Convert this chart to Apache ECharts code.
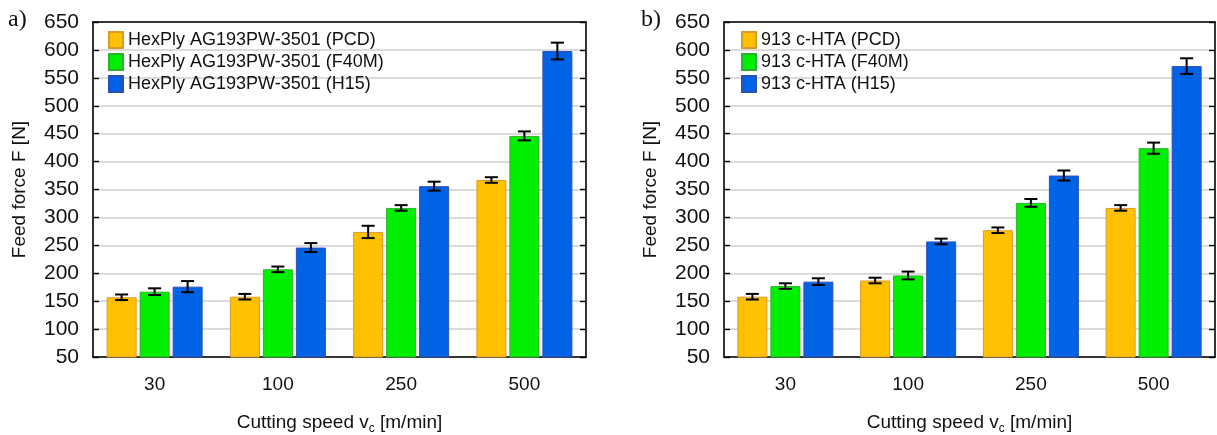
<!DOCTYPE html>
<html>
<head>
<meta charset="utf-8">
<script src="https://cdn.jsdelivr.net/npm/echarts@6/dist/echarts.min.js"></script>
<style>
  html, body { margin: 0; padding: 0; background: #fff; }
  #chart { width: 1217px; height: 435px; }
</style>
</head>
<body>
<div id="chart"></div>
<script>
// Cutting speeds (m/min)
const categories = ['30', '100', '250', '500'];
const yTicks = { min: 50, max: 650, step: 50 };

// a) HexPly AG193PW-3501, feed force [N] and spread
const leftNames = ['HexPly AG193PW-3501 (PCD)', 'HexPly AG193PW-3501 (F40M)', 'HexPly AG193PW-3501 (H15)'];
const leftPCD = [157, 158, 274, 367];
const leftPCDErr = [5, 5, 11, 5];
const leftF40M = [167, 207, 317, 446];
const leftF40MErr = [6, 5, 5, 8];
const leftH15 = [176, 246, 356, 598];
const leftH15Err = [10, 8, 8, 15];

// b) 913 c-HTA, feed force [N] and spread
const rightNames = ['913 c-HTA (PCD)', '913 c-HTA (F40M)', '913 c-HTA (H15)'];
const rightPCD = [158, 187, 277, 317];
const rightPCDErr = [5, 5, 5, 5];
const rightF40M = [177, 196, 326, 424];
const rightF40MErr = [5, 7, 7, 10];
const rightH15 = [185, 257, 375, 571];
const rightH15Err = [6, 5, 9, 14];

const FONT = '"Liberation Sans", Arial, sans-serif';
const fills = ['#FFC000', '#00EE00', '#0062E4'];
const borders = ['#D99A2E', '#2DB02D', '#2F4FB5'];
const BAR_W = 30;
const BAR_STEP = 33; // bar width plus gap

const grids = [
  { left: 93, top: 22, width: 493, height: 335, outerBoundsMode: 'none', containLabel: false },
  { left: 724, top: 22, width: 491, height: 335, outerBoundsMode: 'none', containLabel: false }
];

function xAxes(gi) {
  return [
    {
      type: 'category', gridIndex: gi, position: 'bottom', data: categories,
      axisLine: { lineStyle: { color: '#000', width: 1.6 } },
      axisTick: { inside: true, length: 6, alignWithLabel: true, lineStyle: { color: '#000', width: 1.4 } },
      axisLabel: { color: '#111', fontSize: 19, fontFamily: FONT, margin: 18 },
      name: 'Cutting speed v{sub|c} [m/min]', nameLocation: 'middle', nameGap: 54,
      nameTextStyle: {
        color: '#111', fontSize: 19, fontFamily: FONT, lineHeight: 24,
        rich: { sub: { fontSize: 12, fontFamily: FONT, color: '#111', verticalAlign: 'bottom', lineHeight: 18 } }
      }
    },
    {
      type: 'category', gridIndex: gi, position: 'top', data: categories,
      axisLine: { lineStyle: { color: '#000', width: 1.6 } },
      axisTick: { inside: true, length: 6, alignWithLabel: true, lineStyle: { color: '#000', width: 1.4 } },
      axisLabel: { show: false }
    }
  ];
}

function yAxes(gi) {
  return [
    {
      type: 'value', gridIndex: gi, position: 'left', min: yTicks.min, max: yTicks.max, interval: yTicks.step,
      axisLine: { show: true, lineStyle: { color: '#000', width: 1.6 } },
      axisTick: { show: true, inside: true, length: 6, lineStyle: { color: '#000', width: 1.4 } },
      axisLabel: { color: '#111', fontSize: 21, fontFamily: FONT, margin: 14 },
      splitLine: { show: true, lineStyle: { color: '#CFCFCF', width: 1.6 } },
      name: 'Feed force F [N]', nameLocation: 'middle', nameGap: 64, nameRotate: 90,
      nameTextStyle: { color: '#111', fontSize: 19, fontFamily: FONT }
    },
    {
      type: 'value', gridIndex: gi, position: 'right', min: yTicks.min, max: yTicks.max, interval: yTicks.step,
      axisLine: { show: true, lineStyle: { color: '#000', width: 1.6 } },
      axisTick: { show: true, inside: true, length: 6, lineStyle: { color: '#000', width: 1.4 } },
      axisLabel: { show: false },
      splitLine: { show: false }
    }
  ];
}

function barSeries(name, data, k, gi) {
  return {
    type: 'bar', name: name, data: data,
    xAxisIndex: gi * 2, yAxisIndex: gi * 2,
    barWidth: BAR_W, barGap: '10%',
    itemStyle: { color: fills[k], borderColor: borders[k], borderWidth: 1 },
    emphasis: { disabled: true }
  };
}

function errorSeries(values, errs, k, gi) {
  const offset = (k - 1) * BAR_STEP;
  return {
    type: 'custom',
    xAxisIndex: gi * 2, yAxisIndex: gi * 2,
    z: 5,
    data: values.map((v, i) => [i, v, errs[i]]),
    renderItem: function (params, api) {
      const i = api.value(0), v = api.value(1), e = api.value(2);
      const hi = api.coord([i, v + e]);
      const lo = api.coord([i, v - e]);
      const x = hi[0] + offset;
      const cap = 6.5;
      const style = { stroke: '#000', lineWidth: 2 };
      return {
        type: 'group',
        children: [
          { type: 'line', shape: { x1: x, y1: hi[1], x2: x, y2: lo[1] }, style: style },
          { type: 'line', shape: { x1: x - cap, y1: hi[1], x2: x + cap, y2: hi[1] }, style: style },
          { type: 'line', shape: { x1: x - cap, y1: lo[1], x2: x + cap, y2: lo[1] }, style: style }
        ]
      };
    }
  };
}

function legend(names, left) {
  return {
    orient: 'vertical', left: left, top: 26, itemWidth: 14, itemHeight: 16, itemGap: 4,
    icon: 'rect',
    data: names, selectedMode: false,
    textStyle: { color: '#111', fontSize: 18, fontFamily: FONT, lineHeight: 17 }
  };
}

const chart = echarts.init(document.getElementById('chart'), null, { renderer: 'canvas' });
chart.setOption({
  animation: false,
  backgroundColor: '#fff',
  grid: grids,
  xAxis: xAxes(0).concat(xAxes(1)),
  yAxis: yAxes(0).concat(yAxes(1)),
  legend: [legend(leftNames, 103), legend(rightNames, 736)],
  series: [
    barSeries(leftNames[0], leftPCD, 0, 0),
    barSeries(leftNames[1], leftF40M, 1, 0),
    barSeries(leftNames[2], leftH15, 2, 0),
    errorSeries(leftPCD, leftPCDErr, 0, 0),
    errorSeries(leftF40M, leftF40MErr, 1, 0),
    errorSeries(leftH15, leftH15Err, 2, 0),
    barSeries(rightNames[0], rightPCD, 0, 1),
    barSeries(rightNames[1], rightF40M, 1, 1),
    barSeries(rightNames[2], rightH15, 2, 1),
    errorSeries(rightPCD, rightPCDErr, 0, 1),
    errorSeries(rightF40M, rightF40MErr, 1, 1),
    errorSeries(rightH15, rightH15Err, 2, 1)
  ],
  graphic: [
    { type: 'text', left: 8, top: 8, style: { text: 'a)', font: '24px "Liberation Serif", "DejaVu Serif", serif', fill: '#111' } },
    { type: 'text', left: 641, top: 8, style: { text: 'b)', font: '24px "Liberation Serif", "DejaVu Serif", serif', fill: '#111' } }
  ]
});
</script>
</body>
</html>
